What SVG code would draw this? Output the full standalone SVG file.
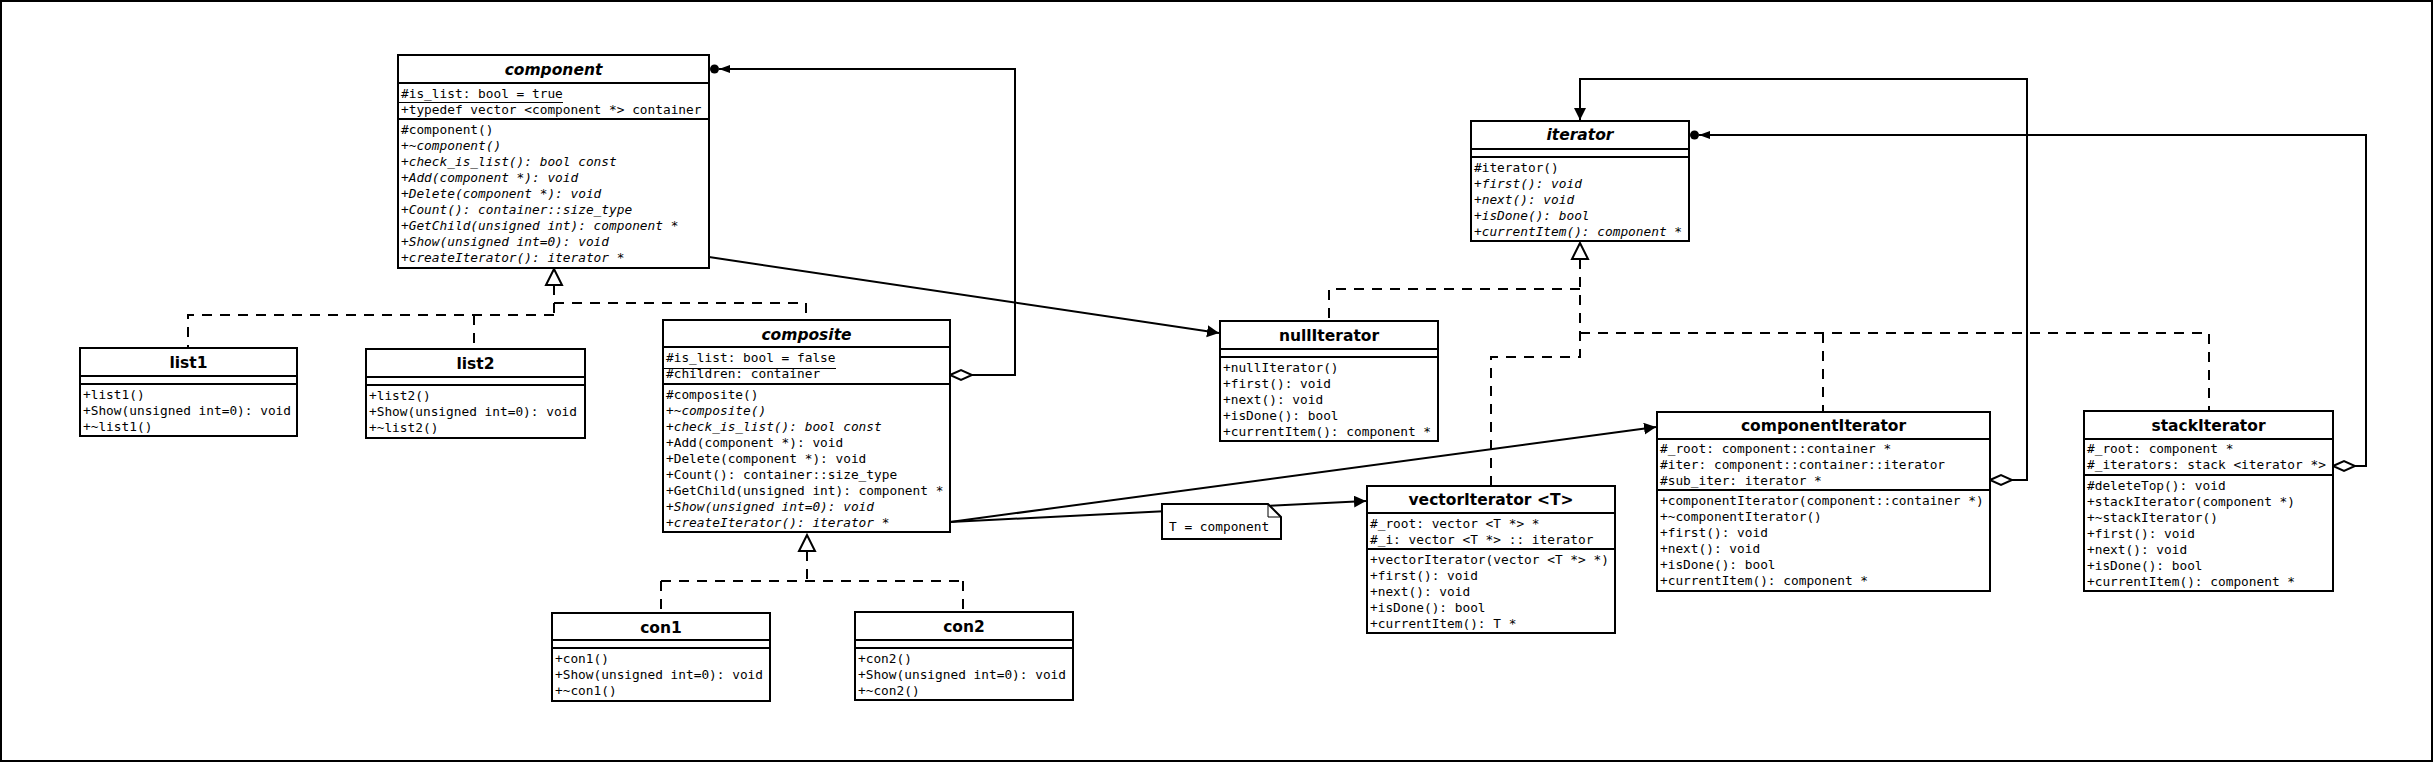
<svg xmlns="http://www.w3.org/2000/svg" width="2435" height="763" viewBox="0 0 2435 763">
<style>
.box{fill:#fff;stroke:#000;stroke-width:2}
.sep{stroke:#000;stroke-width:2;fill:none}
.ln{stroke:#000;stroke-width:2;fill:none}
.dash{stroke:#000;stroke-width:2;fill:none;stroke-dasharray:10 8}
.tri{fill:#fff;stroke:#000;stroke-width:2}
.dia{fill:#fff;stroke:#000;stroke-width:2}
.t{font-family:"DejaVu Sans","Liberation Sans",sans-serif;font-weight:bold;font-size:15.5px;text-anchor:middle;fill:#000}
.ab{font-style:italic}
.m{font-family:"DejaVu Sans Mono","Liberation Mono",monospace;font-size:12.8px;fill:#000}
.i{font-style:italic}
.ul{stroke:#000;stroke-width:1}
</style>
<defs>
<marker id="arr" markerUnits="userSpaceOnUse" markerWidth="14" markerHeight="14" refX="12" refY="6" orient="auto"><path d="M0,0 L12,6 L0,12 z" fill="#000"/></marker>
<marker id="arrs" markerUnits="userSpaceOnUse" markerWidth="12" markerHeight="10" refX="11" refY="4" orient="auto"><path d="M0,0 L11,4 L0,8 z" fill="#000"/></marker>
</defs>
<rect x="1" y="1" width="2431" height="760" fill="#fff" stroke="#000" stroke-width="2"/>

<g id="connectors">
<path class="dash" d="M554,285 V315 M554,303 H806 V320 M554,315 H188 V348 M474,315 V349"/>
<polygon class="tri" points="554,269 546,285 562,285"/>
<path class="dash" d="M807,551 V581 M661,581 H963 M661,581 V613 M963,581 V612"/>
<polygon class="tri" points="807,535 799,551 815,551"/>
<path class="dash" d="M1580,259 V357 H1491 V486 M1580,289 H1329 V321 M1580,333 H2209 V411 M1823,333 V412"/>
<polygon class="tri" points="1580,243 1572,259 1588,259"/>
<line class="ln" x1="709" y1="257" x2="1219" y2="333" marker-end="url(#arr)"/>
<line class="ln" x1="950" y1="522" x2="1656" y2="427" marker-end="url(#arr)"/>
<line class="ln" x1="950" y1="522" x2="1366" y2="501" marker-end="url(#arr)"/>
<polyline class="ln" points="972,375 1015,375 1015,69 719,69" marker-end="url(#arrs)"/>
<circle cx="714.5" cy="69" r="4.5" fill="#000"/>
<polygon class="dia" points="950,375 961,370 972,375 961,380"/>
<polyline class="ln" points="2012,480 2027,480 2027,79 1580,79 1580,120" marker-end="url(#arr)"/>
<polygon class="dia" points="1990,480 2001,475 2012,480 2001,485"/>
<polyline class="ln" points="2355,466 2366,466 2366,135 1699,135" marker-end="url(#arrs)"/>
<circle cx="1694.5" cy="135" r="4.5" fill="#000"/>
<polygon class="dia" points="2333,466 2344,461 2355,466 2344,471"/>
</g>

<g id="component">
<rect class="box" x="398" y="55" width="311" height="213"/>
<path class="sep" d="M398,83 H709 M398,119 H709"/>
<text class="t ab" x="553.5" y="74.5">component</text>
<text class="m" x="401" y="97.5">#is_list: bool = true</text>
<line class="ul" x1="398" y1="102.5" x2="563" y2="102.5"/>
<text class="m" x="401" y="113.5">+typedef vector &lt;component *&gt; container</text>
<text class="m" x="401" y="133.5">#component()</text>
<text class="m i" x="401" y="149.5">+~component()</text>
<text class="m i" x="401" y="165.5">+check_is_list(): bool const</text>
<text class="m i" x="401" y="181.5">+Add(component *): void</text>
<text class="m i" x="401" y="197.5">+Delete(component *): void</text>
<text class="m i" x="401" y="213.5">+Count(): container::size_type</text>
<text class="m i" x="401" y="229.5">+GetChild(unsigned int): component *</text>
<text class="m i" x="401" y="245.5">+Show(unsigned int=0): void</text>
<text class="m i" x="401" y="261.5">+createIterator(): iterator *</text>
</g>

<g id="list1">
<rect class="box" x="80" y="348" width="217" height="88"/>
<path class="sep" d="M80,376 H297 M80,384 H297"/>
<text class="t" x="188.5" y="367.5">list1</text>
<text class="m" x="83" y="398.5">+list1()</text>
<text class="m" x="83" y="414.5">+Show(unsigned int=0): void</text>
<text class="m" x="83" y="430.5">+~list1()</text>
</g>

<g id="list2">
<rect class="box" x="366" y="349" width="219" height="89"/>
<path class="sep" d="M366,377 H585 M366,385 H585"/>
<text class="t" x="475.5" y="368.5">list2</text>
<text class="m" x="369" y="399.5">+list2()</text>
<text class="m" x="369" y="415.5">+Show(unsigned int=0): void</text>
<text class="m" x="369" y="431.5">+~list2()</text>
</g>

<g id="composite">
<rect class="box" x="663" y="320" width="287" height="212"/>
<path class="sep" d="M663,347 H950 M663,384 H950"/>
<text class="t ab" x="806.5" y="339.5">composite</text>
<text class="m" x="666" y="361.5">#is_list: bool = false</text>
<line class="ul" x1="663" y1="368.5" x2="836" y2="368.5"/>
<text class="m" x="666" y="377.5">#children: container</text>
<text class="m" x="666" y="398.5">#composite()</text>
<text class="m i" x="666" y="414.5">+~composite()</text>
<text class="m i" x="666" y="430.5">+check_is_list(): bool const</text>
<text class="m" x="666" y="446.5">+Add(component *): void</text>
<text class="m" x="666" y="462.5">+Delete(component *): void</text>
<text class="m" x="666" y="478.5">+Count(): container::size_type</text>
<text class="m" x="666" y="494.5">+GetChild(unsigned int): component *</text>
<text class="m i" x="666" y="510.5">+Show(unsigned int=0): void</text>
<text class="m i" x="666" y="526.5">+createIterator(): iterator *</text>
</g>

<g id="con1">
<rect class="box" x="552" y="613" width="218" height="88"/>
<path class="sep" d="M552,640 H770 M552,648 H770"/>
<text class="t" x="661" y="632.5">con1</text>
<text class="m" x="555" y="662.5">+con1()</text>
<text class="m" x="555" y="678.5">+Show(unsigned int=0): void</text>
<text class="m" x="555" y="694.5">+~con1()</text>
</g>

<g id="con2">
<rect class="box" x="855" y="612" width="218" height="88"/>
<path class="sep" d="M855,640 H1073 M855,648 H1073"/>
<text class="t" x="964" y="631.5">con2</text>
<text class="m" x="858" y="662.5">+con2()</text>
<text class="m" x="858" y="678.5">+Show(unsigned int=0): void</text>
<text class="m" x="858" y="694.5">+~con2()</text>
</g>

<g id="iterator">
<rect class="box" x="1471" y="121" width="218" height="120"/>
<path class="sep" d="M1471,149 H1689 M1471,157 H1689"/>
<text class="t ab" x="1580" y="139.5">iterator</text>
<text class="m" x="1474" y="171.5">#iterator()</text>
<text class="m i" x="1474" y="187.5">+first(): void</text>
<text class="m i" x="1474" y="203.5">+next(): void</text>
<text class="m i" x="1474" y="219.5">+isDone(): bool</text>
<text class="m i" x="1474" y="235.5">+currentItem(): component *</text>
</g>

<g id="nullIterator">
<rect class="box" x="1220" y="321" width="218" height="120"/>
<path class="sep" d="M1220,349 H1438 M1220,357 H1438"/>
<text class="t" x="1329" y="340.5">nullIterator</text>
<text class="m" x="1223" y="371.5">+nullIterator()</text>
<text class="m" x="1223" y="387.5">+first(): void</text>
<text class="m" x="1223" y="403.5">+next(): void</text>
<text class="m" x="1223" y="419.5">+isDone(): bool</text>
<text class="m" x="1223" y="435.5">+currentItem(): component *</text>
</g>

<g id="note">
<path class="box" d="M1162,504 H1268 L1281,517 V539 H1162 Z"/>
<path class="ul" d="M1268,504 V517 H1281" fill="none"/>
<text class="m" x="1169" y="530.5">T = component</text>
</g>

<g id="vectorIterator">
<rect class="box" x="1367" y="486" width="248" height="147"/>
<path class="sep" d="M1367,513 H1615 M1367,549 H1615"/>
<text class="t" x="1491" y="504.5">vectorIterator &lt;T&gt;</text>
<text class="m" x="1370" y="527.5">#_root: vector &lt;T *&gt; *</text>
<text class="m" x="1370" y="543.5">#_i: vector &lt;T *&gt; :: iterator</text>
<text class="m" x="1370" y="563.5">+vectorIterator(vector &lt;T *&gt; *)</text>
<text class="m" x="1370" y="579.5">+first(): void</text>
<text class="m" x="1370" y="595.5">+next(): void</text>
<text class="m" x="1370" y="611.5">+isDone(): bool</text>
<text class="m" x="1370" y="627.5">+currentItem(): T *</text>
</g>

<g id="componentIterator">
<rect class="box" x="1657" y="412" width="333" height="179"/>
<path class="sep" d="M1657,439 H1990 M1657,490 H1990"/>
<text class="t" x="1823.5" y="430.5">componentIterator</text>
<text class="m" x="1660" y="452.5">#_root: component::container *</text>
<text class="m" x="1660" y="468.5">#iter: component::container::iterator</text>
<text class="m" x="1660" y="484.5">#sub_iter: iterator *</text>
<text class="m" x="1660" y="505">+componentIterator(component::container *)</text>
<text class="m" x="1660" y="521">+~componentIterator()</text>
<text class="m" x="1660" y="537">+first(): void</text>
<text class="m" x="1660" y="553">+next(): void</text>
<text class="m" x="1660" y="569">+isDone(): bool</text>
<text class="m" x="1660" y="585">+currentItem(): component *</text>
</g>

<g id="stackIterator">
<rect class="box" x="2084" y="411" width="249" height="180"/>
<path class="sep" d="M2084,439 H2333 M2084,475 H2333"/>
<text class="t" x="2208.5" y="430.5">stackIterator</text>
<text class="m" x="2087" y="452.5">#_root: component *</text>
<text class="m" x="2087" y="468.5">#_iterators: stack &lt;iterator *&gt;</text>
<text class="m" x="2087" y="489.5">#deleteTop(): void</text>
<text class="m" x="2087" y="505.5">+stackIterator(component *)</text>
<text class="m" x="2087" y="521.5">+~stackIterator()</text>
<text class="m" x="2087" y="537.5">+first(): void</text>
<text class="m" x="2087" y="553.5">+next(): void</text>
<text class="m" x="2087" y="569.5">+isDone(): bool</text>
<text class="m" x="2087" y="585.5">+currentItem(): component *</text>
</g>
</svg>
